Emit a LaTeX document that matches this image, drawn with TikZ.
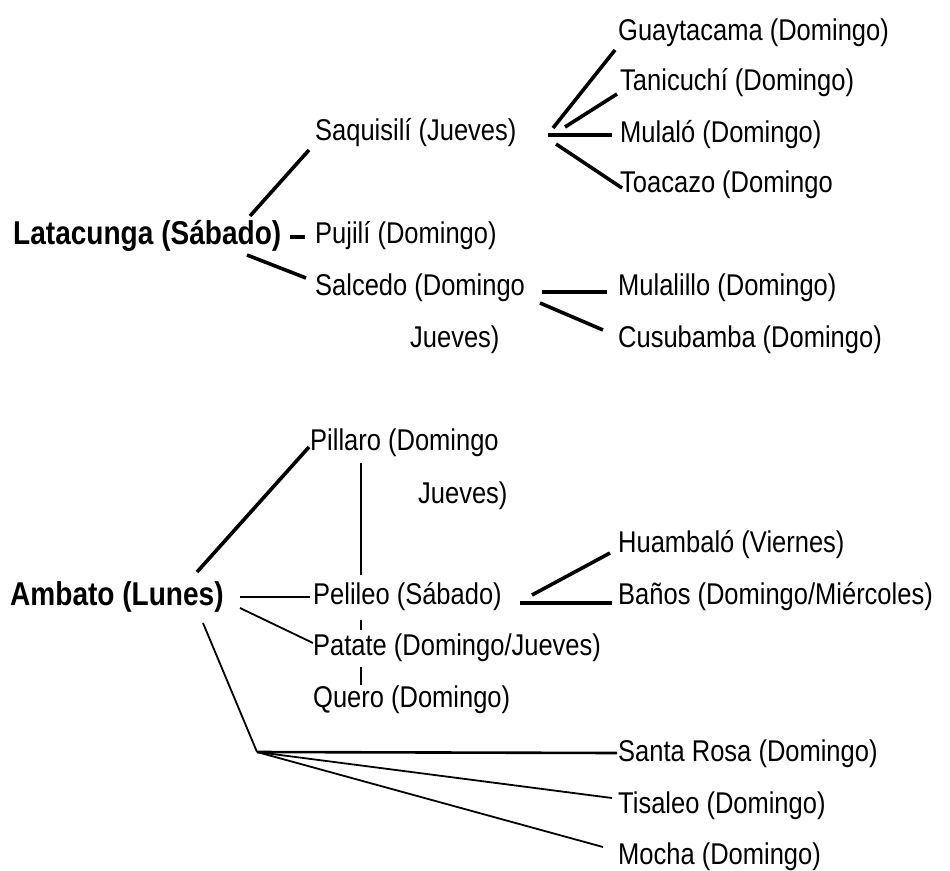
\documentclass[tikz,border=0pt]{standalone}
\usepackage{fontspec}
\setmainfont{Liberation Sans}[FakeStretch=0.85]
\begin{document}
\begin{tikzpicture}[x=1pt,y=-1pt,
  lbl/.style={anchor=west,inner sep=0pt,font=\fontsize{30}{33}\selectfont},
  head/.style={anchor=west,inner sep=0pt,font=\fontsize{33}{36}\selectfont\bfseries},
  thk/.style={line width=3.6pt},
  med/.style={line width=2.6pt},
  thn/.style={line width=1.8pt}]
\useasboundingbox[fill=white] (0,0) rectangle (950,870);
% upper tree
\node[head] (lat) at (13,236) {Latacunga (Sábado)};
\node[lbl] (saq) at (315,133) {Saquisilí (Jueves)};
\node[lbl] (puj) at (315,236) {Pujilí (Domingo)};
\node[lbl] (sal) at (315,288) {Salcedo (Domingo};
\node[lbl] (salb) at (410,340) {Jueves)};
\node[lbl] (gua) at (618,33) {Guaytacama (Domingo)};
\node[lbl] (tan) at (620,83) {Tanicuchí (Domingo)};
\node[lbl] (mul) at (620,135) {Mulaló (Domingo)};
\node[lbl] (toa) at (620,185) {Toacazo (Domingo};
\node[lbl] (mll) at (618,288) {Mulalillo (Domingo)};
\node[lbl] (cus) at (618,340) {Cusubamba (Domingo)};
% lower tree
\node[head] (amb) at (10,597) {Ambato (Lunes)};
\node[lbl] (pil) at (310,443) {Pillaro (Domingo};
\node[lbl] (pilb) at (418,496) {Jueves)};
\node[lbl] (pel) at (313,597) {Pelileo (Sábado)};
\node[lbl] (pat) at (313,648) {Patate (Domingo/Jueves)};
\node[lbl] (que) at (313,700) {Quero (Domingo)};
\node[lbl] (hua) at (618,545) {Huambaló (Viernes)};
\node[lbl] (ban) at (618,597) {Baños (Domingo/Miércoles)};
\node[lbl] (sro) at (618,754) {Santa Rosa (Domingo)};
\node[lbl] (tis) at (618,806) {Tisaleo (Domingo)};
\node[lbl] (moc) at (618,857) {Mocha (Domingo)};
\coordinate (hub) at (257,752);
% connectors upper
\draw[thk] ([shift={(237,-20)}]lat.west) -- ([shift={(-6,17)}]saq.west);
\draw[thk] ([shift={(277,1)}]lat.west) -- ([shift={(-10,1)}]puj.west);
\draw[thk] ([shift={(234,19)}]lat.west) -- ([shift={(-9,-10)}]sal.west);
\draw[thk] ([shift={(238,-5)}]saq.west) -- ([shift={(-3,17)}]gua.west);
\draw[thk] ([shift={(250,-6)}]saq.west) -- ([shift={(-3,11)}]tan.west);
\draw[thk] ([shift={(233,2)}]saq.west) -- ([shift={(-8,0)}]mul.west);
\draw[thk] ([shift={(241,11)}]saq.west) -- ([shift={(2,3)}]toa.west);
\draw[thk] ([shift={(227,4)}]sal.west) -- ([shift={(-11,4)}]mll.west);
\draw[thk] ([shift={(225,15)}]sal.west) -- ([shift={(-15,-10)}]cus.west);
% connectors lower
\draw[thk] ([shift={(187,-25)}]amb.west) -- ([shift={(-1,4)}]pil.west);
\draw[med] ([shift={(51,20)}]pil.west) -- ([shift={(48,-22)}]pel.west);
\draw[med] ([shift={(48,23)}]pel.west) -- ([shift={(48,-18)}]pat.west);
\draw[med] ([shift={(48,19)}]pat.west) -- ([shift={(48,-15)}]que.west);
\draw[med] ([shift={(230,0)}]amb.west) -- ([shift={(-3,0)}]pel.west);
\draw[thn] ([shift={(230,11)}]amb.west) -- ([shift={(0,-5)}]pat.west);
\draw[thn] ([shift={(193,26)}]amb.west) -- (hub);
\draw[med] (hub) -- ([shift={(-1,-1)}]sro.west);
\draw[thn] (hub) -- ([shift={(-6,-8)}]tis.west);
\draw[thn] (hub) -- ([shift={(-15,-10)}]moc.west);
\draw[thk] ([shift={(219,-2)}]pel.west) -- ([shift={(-8,8)}]hua.west);
\draw[thk] ([shift={(207,6)}]pel.west) -- ([shift={(-6,6)}]ban.west);
\end{tikzpicture}
\end{document}
